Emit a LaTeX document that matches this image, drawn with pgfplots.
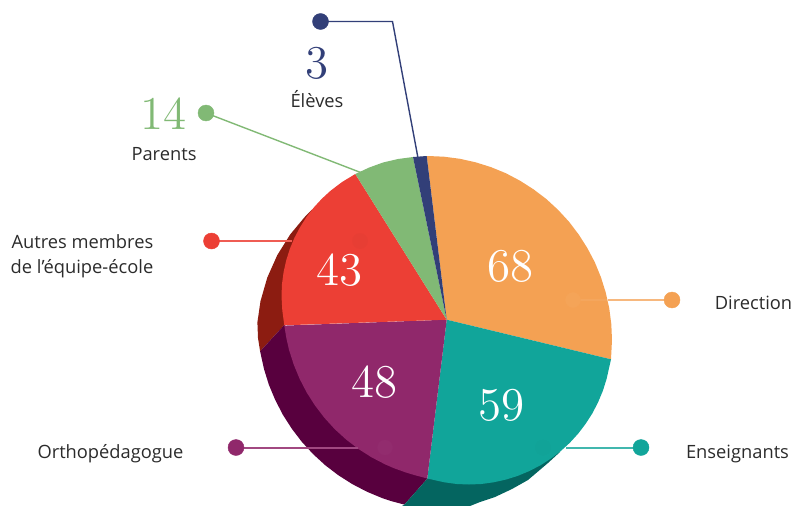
\documentclass[border=0pt]{standalone}
\usepackage{fontspec}
\usepackage{pgfplots}
\pgfplotsset{compat=1.18}
\newfontfamily\lab{Open Sans}
\newfontface\numf{lmroman12-regular}[Extension=.otf]
\definecolor{cOrange}{HTML}{F4A153}
\definecolor{cTeal}{HTML}{11A59A}
\definecolor{cPurple}{HTML}{90286B}
\definecolor{cRed}{HTML}{EC3F35}
\definecolor{cGreen}{HTML}{81B975}
\definecolor{cBlue}{HTML}{323F78}
\definecolor{dRed}{HTML}{8C1C11}
\definecolor{dPurple}{HTML}{58003E}
\definecolor{dTeal}{HTML}{046560}
\definecolor{cText}{HTML}{2B2B2B}
\newcommand{\num}[1]{\numf\fontsize{47}{47}\selectfont #1}
\newcommand{\txt}[1]{\lab\fontsize{18.3}{18.3}\selectfont\color{cText}#1}
\tikzset{lbl/.style={inner sep=0pt, outer sep=0pt, anchor=base}}
\begin{document}
\begin{tikzpicture}
\begin{axis}[
  name=a,
  scale only axis, width=793pt, height=506pt,
  xmin=0, xmax=793, ymin=0, ymax=506, y dir=reverse,
  axis lines=none,
]
% extruded side
\addplot[fill=dRed, draw=none] coordinates {(312,209.5) (306,215.5) (290.3,234.3) (277.3,255.1) (267.3,277.5) (260.5,301.1) (257.4,322.3) (258,338) (260.1,351.3) (284.3,325) (330,250)} -- cycle;
\addplot[fill=dPurple, draw=none] coordinates {(284.3,325) (260.1,351.3) (264,369) (268.9,384.8) (275.3,400.1) (282.9,414.8) (291.8,428.7) (301.8,441.8) (313,454) (325.2,465.2) (338.3,475.2) (352.3,484.1) (366.9,491.7) (382.2,498.1) (391.6,501.2) (404.4,504.6) (427.3,478.7) (370,400)} -- cycle;
\addplot[fill=dTeal, draw=none] coordinates {(427.3,478.7) (404.4,504.6) (402,506) (470,506) (480,502) (495,497) (512,489) (528,480) (548,463) (560,452) (500,400)} -- cycle;
% top of the pie
\addplot[fill=cOrange, draw=none] coordinates {(446.7,319.7) (426.7,156) (428,156) (444,156.7) (460,158.8) (475.6,162.3) (490.9,167.1) (505.8,173.2) (520,180.7) (533.5,189.3) (546.3,199) (558.1,209.9) (569,221.7) (578.7,234.5) (587.3,248) (594.8,262.2) (600.9,277.1) (605.7,292.4) (609.2,308) (611.3,324) (612,340) (611,359.3)} -- cycle;
\addplot[fill=cTeal, draw=none] coordinates {(446.7,319.7) (611,359.3) (606.6,378.9) (602.9,390.7) (598.1,402.2) (592.4,413.3) (585.7,423.7) (578.2,433.6) (569.8,442.8) (560.6,451.2) (550.7,458.7) (540.3,465.4) (529.2,471.1) (517.7,475.9) (505.9,479.6) (493.7,482.3) (481.4,484) (469,484.5) (456.6,484) (444.3,482.3) (427.3,478.5)} -- cycle;
\addplot[fill=cPurple, draw=none] coordinates {(446.7,319.7) (427.3,478.5) (414.2,475) (405.3,472.3) (393.7,468.1) (385.2,464.4) (371.5,457.3) (358.5,449) (346.2,439.6) (334.8,429.2) (324.4,417.8) (315,405.5) (306.7,392.5) (299.6,378.8) (293.7,364.5) (289,349.8) (286.3,337.8) (284.3,325.6)} -- cycle;
\addplot[fill=cRed, draw=none] coordinates {(446.7,319.7) (284.3,325.3) (282.3,310.4) (281.5,296) (282,284) (283.6,272.1) (286.2,260.4) (289.8,249) (294.4,237.9) (300,227.3) (306.4,217.1) (313.7,207.6) (321.8,198.8) (330.6,190.7) (342.1,182) (355.3,174)} -- cycle;
\addplot[fill=cGreen, draw=none] coordinates {(446.7,319.7) (355.3,174) (369,167.6) (383,162.5) (398,159) (413,157)} -- cycle;
\addplot[fill=cBlue, draw=none] coordinates {(446.7,319.7) (413,157) (426.7,156)} -- cycle;
% leader lines
\addplot[color=cOrange!75!white, line width=1.8pt] coordinates {(672,300) (607.5,300)};
\addplot[color=cOrange!70!white, line width=1.3pt, opacity=.2] coordinates {(607.5,300) (573,300)};
\addplot[color=cTeal!80!white, line width=1.8pt] coordinates {(641,447.7) (566,447.7)};
\addplot[color=cPurple!85!white, line width=1.8pt] coordinates {(236,447.7) (358,447.7)};
\addplot[color=cRed!85!white, line width=1.6pt] coordinates {(211.5,241) (292,241)};
\addplot[color=cGreen, line width=1.4pt] coordinates {(206,113) (362,173)};
\addplot[color=cBlue, line width=1.4pt] coordinates {(320.5,21.5) (392.5,21.5) (418,158)};
% end dots
\addplot[only marks, mark=*, mark size=8pt, color=cOrange, mark options={draw=none}] coordinates {(672,300)};
\addplot[only marks, mark=*, mark size=8pt, color=cTeal, mark options={draw=none}] coordinates {(641,447.5)};
\addplot[only marks, mark=*, mark size=8pt, color=cPurple, mark options={draw=none}] coordinates {(236,447.5)};
\addplot[only marks, mark=*, mark size=8pt, color=cRed, mark options={draw=none}] coordinates {(211.5,241)};
\addplot[only marks, mark=*, mark size=8pt, color=cGreen, mark options={draw=none}] coordinates {(206,113)};
\addplot[only marks, mark=*, mark size=8pt, color=cBlue, mark options={draw=none}] coordinates {(320.5,21.5)};
% faint dots on the slices
\addplot[only marks, mark=*, mark size=7.5pt, color=cOrange!97!white, mark options={draw=none}] coordinates {(573,300)};
\addplot[only marks, mark=*, mark size=7.5pt, color=cTeal!99!black, mark options={draw=none}] coordinates {(543,447.5)};
\addplot[only marks, mark=*, mark size=7.5pt, color=cPurple!98!white, mark options={draw=none}] coordinates {(385,447.5)};
\addplot[only marks, mark=*, mark size=7.5pt, color=cRed!98!black, mark options={draw=none}] coordinates {(360,241)};
% values
\node[lbl, text=white] at (axis cs:510.8,281.7) {\num{68}};
\node[lbl, text=white] at (axis cs:501.7,420.7) {\num{59}};
\node[lbl, text=white] at (axis cs:374.3,397.7) {\num{48}};
\node[lbl, text=white] at (axis cs:339.2,285) {\num{43}};
\node[lbl, text=cBlue] at (axis cs:316.7,78.3) {\num{3}};
\node[lbl, text=cGreen] at (axis cs:163.3,129.3) {\num{14}};
% names
\node[lbl] at (axis cs:317,107.7) {\txt{Élèves}};
\node[lbl] at (axis cs:164,160) {\txt{Parents}};
\node[lbl] at (axis cs:82.4,248.3) {\txt{Autres membres}};
\node[lbl] at (axis cs:82,273.3) {\txt{de l’équipe-école}};
\node[lbl] at (axis cs:110.5,458) {\txt{Orthopédagogue}};
\node[lbl] at (axis cs:753.5,309.3) {\txt{Direction}};
\node[lbl] at (axis cs:737.5,458.3) {\txt{Enseignants}};
\end{axis}
\pgfresetboundingbox
\path (a.south west) rectangle (a.north east);
\end{tikzpicture}
\end{document}
